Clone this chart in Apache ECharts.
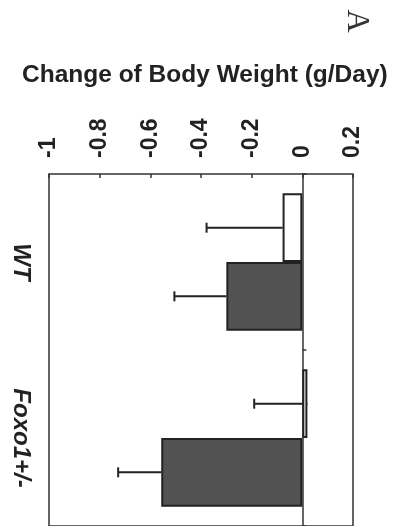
<!DOCTYPE html>
<html>
<head>
<meta charset="utf-8">
<script src="https://cdn.jsdelivr.net/npm/echarts@6/dist/echarts.min.js"></script>
<style>
html,body{margin:0;padding:0;background:#fff;}
#chart{width:394px;height:526px;}
</style>
</head>
<body>
<div id="chart"></div>
<script>
// ---- data ----
var categories = ['WT', 'Foxo1+/-'];
var tickLabels = ['-1', '-0.8', '-0.6', '-0.4', '-0.2', '0', '0.2'];
var seriesNames = ['Control', 'Treated'];
var whiteValues = [-0.078, 0.02];
var whiteErrors = [0.30, 0.21];
var darkValues = [-0.30, -0.557];
var darkErrors = [0.205, 0.17];
var axisTitle = 'Change of Body Weight (g/Day)';
var panelLabel = 'A';

var GAP = 0.22;
var chart = echarts.init(document.getElementById('chart'));

function errData(vals, errs) {
  return vals.map(function (v, i) { return [v, i, v - errs[i]]; });
}
function makeErr(seriesPos) {
  return function (params, api) {
    var v = api.value(0), c = api.value(1), lo = api.value(2);
    var band = api.size([0, 1])[1];
    var bw = band * (1 - GAP) / 2;
    var off = seriesPos === 0 ? -bw / 2 : bw / 2;
    var p1 = api.coord([v, c]);
    var p2 = api.coord([lo, c]);
    var y = p1[1] + off;
    var st = { stroke: '#222', lineWidth: 2 };
    return {
      type: 'group',
      children: [
        { type: 'line', shape: { x1: p1[0], y1: y, x2: p2[0], y2: y }, style: st },
        { type: 'line', shape: { x1: p2[0], y1: y - 5, x2: p2[0], y2: y + 5 }, style: st }
      ]
    };
  };
}

var labelFont = { fontFamily: 'Liberation Sans, Arial, sans-serif', fontWeight: 'bold', color: '#222' };

chart.setOption({
  animation: false,
  grid: { left: 49, right: 41, top: 174, bottom: -2, show: true, borderColor: '#333', borderWidth: 1.5, backgroundColor: 'transparent' },
  xAxis: {
    type: 'value', position: 'top', min: -1, max: 0.2, interval: 0.2,
    splitLine: { show: false },
    axisLine: { show: false },
    axisTick: { show: true, inside: true, length: 4, lineStyle: { color: '#333', width: 1.5 } },
    axisLabel: Object.assign({ rotate: -90, margin: 16, fontSize: 23,
      formatter: function (v) { var i = Math.round((v + 1) / 0.2); return tickLabels[i]; } }, labelFont)
  },
  yAxis: [{
    type: 'category', data: categories, inverse: true, position: 'left',
    axisLine: { show: false, onZero: false },
    axisTick: { show: false },
    axisLabel: Object.assign({ rotate: -90, margin: 16, fontSize: 24, fontStyle: 'italic' }, labelFont)
  }, {
    type: 'category', data: categories, inverse: true, position: 'left',
    axisLine: { show: true, onZero: true, lineStyle: { color: '#333', width: 1.5 } },
    axisTick: { show: true, inside: true, length: 4, lineStyle: { color: '#333', width: 1.5 } },
    axisLabel: { show: false }
  }],
  series: [
    { name: seriesNames[0], type: 'bar', data: whiteValues, barGap: '0%', barCategoryGap: (GAP * 100) + '%',
      itemStyle: { color: '#fff', borderColor: '#222', borderWidth: 2 } },
    { name: seriesNames[1], type: 'bar', data: darkValues, barGap: '0%', barCategoryGap: (GAP * 100) + '%',
      itemStyle: { color: '#525252', borderColor: '#222', borderWidth: 2 } },
    { type: 'custom', renderItem: makeErr(0), data: errData(whiteValues, whiteErrors), z: 1 },
    { type: 'custom', renderItem: makeErr(1), data: errData(darkValues, darkErrors), z: 1 }
  ],
  graphic: [
    { type: 'text', left: 22, top: 63, style: { text: axisTitle, font: 'bold 24.5px "Liberation Sans", Arial, sans-serif', fill: '#222' } },
    { type: 'text', x: 356, y: 21, rotation: -Math.PI / 2,
      style: { text: panelLabel, font: '32px "Liberation Serif", "Times New Roman", serif', fill: '#333', align: 'center', verticalAlign: 'middle' } }
  ]
});
</script>
</body>
</html>
